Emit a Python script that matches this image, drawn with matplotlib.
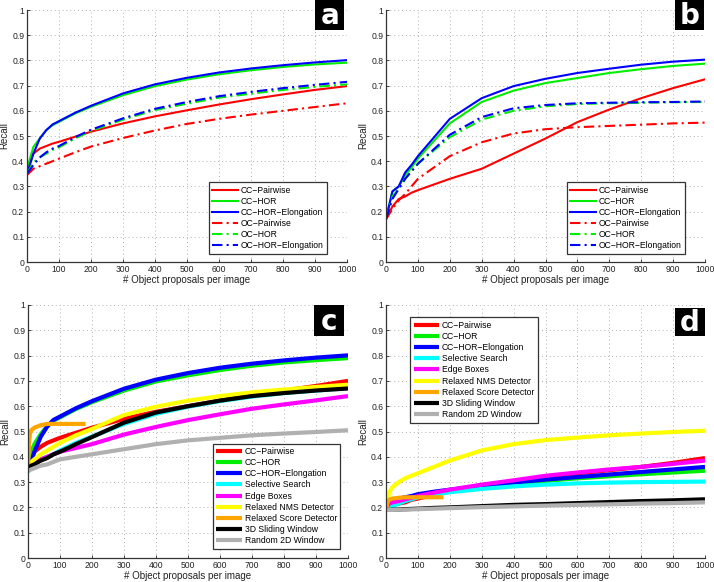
import numpy as np
import matplotlib
matplotlib.use("Agg")
import matplotlib.pyplot as plt
from matplotlib.patches import Rectangle

plt.rcParams['font.family'] = ['Liberation Sans', 'DejaVu Sans']

# ---- panel a ----
xa = [0, 20, 40, 60, 80, 100, 150, 200, 300, 400, 500, 600, 700, 800, 900, 1000]
a_cc_pair = [0.36, 0.43, 0.45, 0.46, 0.47, 0.477, 0.497, 0.517, 0.55, 0.578, 0.602, 0.625, 0.646, 0.665, 0.683, 0.698]
a_cc_hor = [0.37, 0.457, 0.49, 0.523, 0.543, 0.556, 0.589, 0.616, 0.662, 0.698, 0.724, 0.745, 0.761, 0.774, 0.784, 0.791]
a_cc_hor_e = [0.35, 0.43, 0.49, 0.523, 0.546, 0.559, 0.592, 0.62, 0.669, 0.705, 0.731, 0.752, 0.768, 0.781, 0.792, 0.801]
a_oc_pair = [0.345, 0.37, 0.38, 0.39, 0.40, 0.41, 0.435, 0.458, 0.492, 0.522, 0.548, 0.568, 0.585, 0.60, 0.615, 0.63]
a_oc_hor = [0.35, 0.395, 0.415, 0.43, 0.445, 0.455, 0.49, 0.52, 0.565, 0.603, 0.628, 0.652, 0.668, 0.683, 0.695, 0.705]
a_oc_hor_e = [0.35, 0.385, 0.415, 0.435, 0.45, 0.46, 0.495, 0.525, 0.57, 0.608, 0.635, 0.658, 0.675, 0.69, 0.703, 0.715]

# ---- panel b ----
xb = [0, 20, 40, 60, 80, 100, 200, 300, 400, 500, 600, 700, 800, 900, 1000]
b_cc_pair = [0.17, 0.22, 0.25, 0.26, 0.275, 0.285, 0.33, 0.37, 0.43, 0.49, 0.555, 0.605, 0.65, 0.69, 0.725]
b_cc_hor = [0.17, 0.28, 0.30, 0.345, 0.375, 0.41, 0.55, 0.635, 0.68, 0.71, 0.73, 0.75, 0.765, 0.778, 0.787]
b_cc_hor_e = [0.17, 0.28, 0.30, 0.355, 0.385, 0.42, 0.568, 0.65, 0.698, 0.727, 0.75, 0.767, 0.783, 0.795, 0.803]
b_oc_pair = [0.17, 0.21, 0.245, 0.27, 0.30, 0.33, 0.42, 0.475, 0.51, 0.527, 0.535, 0.54, 0.545, 0.55, 0.553]
b_oc_hor = [0.17, 0.26, 0.29, 0.33, 0.36, 0.39, 0.495, 0.565, 0.60, 0.618, 0.627, 0.63, 0.632, 0.634, 0.635]
b_oc_hor_e = [0.17, 0.25, 0.29, 0.33, 0.36, 0.39, 0.505, 0.575, 0.61, 0.623, 0.63, 0.632, 0.634, 0.635, 0.637]

# ---- panel c ----
xc = [0, 10, 20, 40, 60, 80, 100, 150, 200, 300, 400, 500, 600, 700, 800, 900, 1000]
c_cc_pair = [0.36, 0.40, 0.42, 0.44, 0.455, 0.465, 0.475, 0.495, 0.515, 0.55, 0.578, 0.60, 0.622, 0.642, 0.662, 0.68, 0.70]
c_cc_hor = [0.36, 0.42, 0.45, 0.49, 0.52, 0.543, 0.556, 0.589, 0.616, 0.662, 0.698, 0.722, 0.743, 0.76, 0.773, 0.782, 0.79]
c_cc_hor_e = [0.35, 0.38, 0.42, 0.48, 0.52, 0.546, 0.559, 0.592, 0.62, 0.669, 0.705, 0.731, 0.752, 0.768, 0.781, 0.792, 0.801]
c_sel = [0.34, 0.36, 0.37, 0.39, 0.40, 0.41, 0.425, 0.455, 0.48, 0.53, 0.57, 0.598, 0.62, 0.638, 0.652, 0.662, 0.672]
c_edge = [0.355, 0.365, 0.375, 0.39, 0.40, 0.41, 0.42, 0.435, 0.45, 0.488, 0.518, 0.545, 0.568, 0.59, 0.607, 0.623, 0.64]
c_nms = [0.37, 0.38, 0.39, 0.41, 0.425, 0.44, 0.455, 0.485, 0.51, 0.565, 0.598, 0.622, 0.64, 0.655, 0.666, 0.676, 0.685]
c_slide = [0.355, 0.365, 0.37, 0.385, 0.395, 0.41, 0.42, 0.45, 0.478, 0.535, 0.575, 0.60, 0.622, 0.64, 0.652, 0.662, 0.67]
c_rand = [0.345, 0.35, 0.355, 0.365, 0.37, 0.38, 0.39, 0.40, 0.41, 0.43, 0.45, 0.465, 0.475, 0.485, 0.492, 0.498, 0.505]
x_score = [0, 3, 6, 10, 20, 40, 60, 100, 180]
c_score = [0.36, 0.45, 0.49, 0.505, 0.515, 0.525, 0.53, 0.53, 0.53]

# ---- panel d ----
d_cc_pair = [0.20, 0.205, 0.21, 0.215, 0.22, 0.23, 0.235, 0.25, 0.265, 0.285, 0.302, 0.32, 0.335, 0.347, 0.36, 0.376, 0.395]
d_cc_hor = [0.20, 0.215, 0.22, 0.23, 0.235, 0.24, 0.245, 0.255, 0.263, 0.28, 0.293, 0.305, 0.315, 0.323, 0.331, 0.338, 0.345]
d_cc_hor_e = [0.20, 0.215, 0.225, 0.235, 0.24, 0.245, 0.252, 0.262, 0.27, 0.285, 0.298, 0.31, 0.32, 0.33, 0.34, 0.35, 0.36]
d_sel = [0.19, 0.20, 0.205, 0.215, 0.225, 0.232, 0.24, 0.25, 0.26, 0.273, 0.283, 0.29, 0.295, 0.298, 0.30, 0.301, 0.302]
d_edge = [0.20, 0.215, 0.22, 0.225, 0.232, 0.238, 0.245, 0.258, 0.27, 0.29, 0.307, 0.325, 0.338, 0.35, 0.36, 0.372, 0.385]
d_nms = [0.20, 0.26, 0.28, 0.30, 0.315, 0.325, 0.335, 0.36, 0.385, 0.425, 0.45, 0.466, 0.476, 0.485, 0.492, 0.498, 0.503]
d_slide = [0.19, 0.19, 0.191, 0.192, 0.193, 0.194, 0.195, 0.198, 0.20, 0.205, 0.21, 0.213, 0.217, 0.221, 0.225, 0.228, 0.232]
d_rand = [0.19, 0.19, 0.19, 0.191, 0.191, 0.192, 0.193, 0.195, 0.197, 0.201, 0.204, 0.207, 0.21, 0.212, 0.215, 0.217, 0.22]
d_score = [0.19, 0.21, 0.225, 0.23, 0.235, 0.238, 0.24, 0.24, 0.24]

names6 = ['CC\u2212Pairwise', 'CC\u2212HOR', 'CC\u2212HOR\u2212Elongation',
          'OC\u2212Pairwise', 'OC\u2212HOR', 'OC\u2212HOR\u2212Elongation']
names9 = ['CC\u2212Pairwise', 'CC\u2212HOR', 'CC\u2212HOR\u2212Elongation', 'Selective Search',
          'Edge Boxes', 'Relaxed NMS Detector', 'Relaxed Score Detector',
          '3D Sliding Window', 'Random 2D Window']
colors6 = ['#ff0000', '#00ee00', '#0000ff', '#ff0000', '#00ee00', '#0000ff']
colors9 = ['#ff0000', '#00ee00', '#0000ff', '#00ffff', '#ff00ff', '#ffff00', '#ffa500', '#000000', '#b0b0b0']

fig = plt.figure(figsize=(7.14, 5.82), dpi=100)
W, H = 714, 582


def make_ax(l, t, r, b):
    return fig.add_axes([l / W, 1 - b / H, (r - l) / W, (b - t) / H])


def style(ax, letter, box):
    ax.set_xlim(0, 1000)
    ax.set_ylim(0, 1)
    ax.set_xticks(np.arange(0, 1001, 100))
    ax.set_yticks(np.arange(0, 1.01, 0.1))
    ax.set_yticklabels(['0', '0.1', '0.2', '0.3', '0.4', '0.5', '0.6', '0.7', '0.8', '0.9', '1'])
    ax.grid(True, linestyle=(0, (1, 3)), color='#b0b0b0', linewidth=0.7)
    ax.tick_params(direction='in', length=2.5, width=0.6, labelsize=6.2, pad=2, colors='#222222')
    for s in ['top', 'right']:
        ax.spines[s].set_visible(False)
    for s in ['left', 'bottom']:
        ax.spines[s].set_color('#333333')
        ax.spines[s].set_linewidth(0.9)
    ax.set_xlabel('# Object proposals per image', fontsize=7, labelpad=1, color='#222222')
    ax.set_ylabel('Recall', fontsize=7, labelpad=2, color='#222222')
    bx0, by0, bw, bh = box
    ax.add_patch(Rectangle((bx0, by0), bw, bh, transform=ax.transAxes, facecolor='black',
                           edgecolor='none', clip_on=False, zorder=10))
    ax.text(bx0 + bw / 2, by0 + bh / 2 - 0.005, letter, transform=ax.transAxes, color='white',
            fontsize=20, fontweight='bold', ha='center', va='center', zorder=11,
            family='DejaVu Sans')


def legend(ax, **kw):
    leg = ax.legend(fontsize=6.2, handlelength=3.0, handletextpad=0.3, labelspacing=0.25,
                    borderpad=0.4, fancybox=False, framealpha=1, **kw)
    leg.get_frame().set_edgecolor('#333333')
    leg.get_frame().set_linewidth(0.9)


# panel a
ax = make_ax(27, 10, 347, 262)
series_a = [a_cc_pair, a_cc_hor, a_cc_hor_e, a_oc_pair, a_oc_hor, a_oc_hor_e]
for i, ys in enumerate(series_a):
    ls = '-' if i < 3 else (0, (5, 2, 1, 2))
    ax.plot(xa, ys, color=colors6[i], lw=1.5, linestyle=ls, label=names6[i])
style(ax, 'a', (0.9, 0.92, 0.092, 0.122))
legend(ax, loc='lower right', bbox_to_anchor=(0.95, 0.015))

# panel b
ax = make_ax(386, 10, 705, 262)
series_b = [b_cc_pair, b_cc_hor, b_cc_hor_e, b_oc_pair, b_oc_hor, b_oc_hor_e]
for i, ys in enumerate(series_b):
    ls = '-' if i < 3 else (0, (5, 2, 1, 2))
    ax.plot(xb, ys, color=colors6[i], lw=1.5, linestyle=ls, label=names6[i])
style(ax, 'b', (0.905, 0.92, 0.092, 0.122))
legend(ax, loc='lower right', bbox_to_anchor=(0.95, 0.015))

# panel c
ax = make_ax(28, 305, 348, 558)
series_c = [c_cc_pair, c_cc_hor, c_cc_hor_e, c_sel, c_edge, c_nms, c_score, c_slide, c_rand]
for i, ys in enumerate(series_c):
    xs = x_score if i == 6 else xc
    ax.plot(xs, ys, color=colors9[i], lw=3, label=names9[i], solid_capstyle='butt')
style(ax, 'c', (0.894, 0.877, 0.094, 0.123))
legend(ax, loc='lower right', bbox_to_anchor=(0.99, 0.02))

# panel d
ax = make_ax(386, 305, 705, 558)
series_d = [d_cc_pair, d_cc_hor, d_cc_hor_e, d_sel, d_edge, d_nms, d_score, d_slide, d_rand]
for i, ys in enumerate(series_d):
    xs = x_score if i == 6 else xc
    ax.plot(xs, ys, color=colors9[i], lw=3, label=names9[i], solid_capstyle='butt')
style(ax, 'd', (0.906, 0.877, 0.094, 0.11))
legend(ax, loc='upper left', bbox_to_anchor=(0.062, 0.968))

fig.savefig('out.png', dpi=100)
